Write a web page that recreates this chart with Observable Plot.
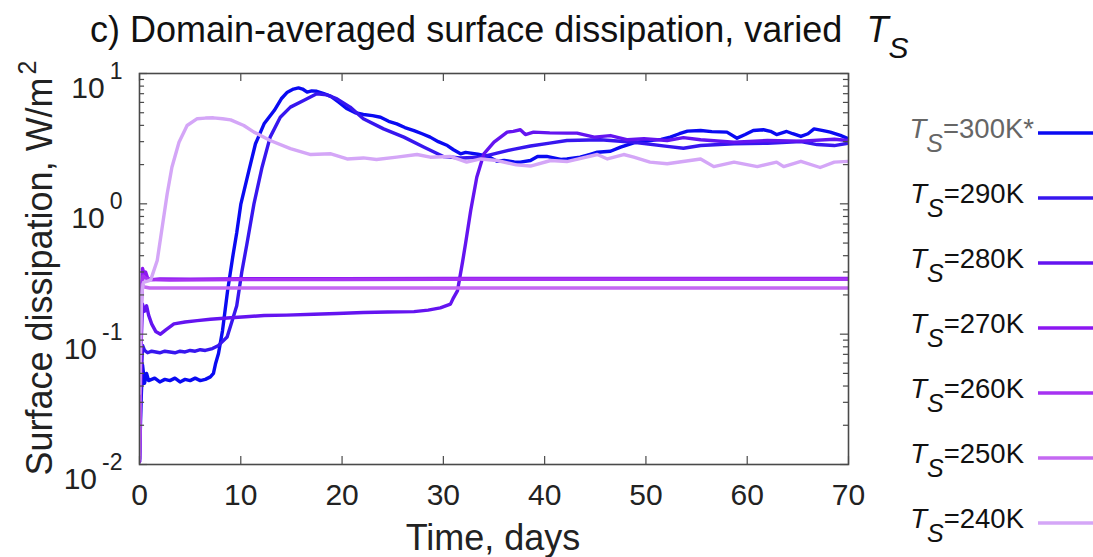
<!DOCTYPE html>
<html>
<head>
<meta charset="utf-8">
<script src="https://cdn.jsdelivr.net/npm/d3@7"></script>
<script src="https://cdn.jsdelivr.net/npm/@observablehq/plot@0.6"></script>
<style>
  body { margin: 0; background: #fff; }
  #wrap { position: relative; width: 1093px; height: 557px; font-family: "Liberation Sans", Arial, sans-serif; }
  #chart { position: absolute; left: 0; top: 0; }
  #overlay { position: absolute; left: 0; top: 0; pointer-events: none; }
</style>
</head>
<body>
<div id="wrap">
  <div id="chart"></div>
  <svg id="overlay" width="1093" height="557"></svg>
</div>
<script>
// ---------- data (day, W/m^2) ----------
const ts300 = [[0,0.0105],[0.15,0.03],[0.3,0.058],[0.5,0.042],[0.7,0.05],[0.9,0.044],[1.5,0.046],[2,0.043],[2.5,0.045],[3,0.044],[3.5,0.046],[4,0.043],[4.5,0.045],[5,0.044],[5.5,0.046],[6,0.044],[6.5,0.045],[7,0.047],[7.3,0.05],[7.5,0.059],[7.8,0.071],[8.2,0.107],[8.7,0.216],[9.2,0.39],[9.6,0.6],[10.0,0.99],[10.8,1.8],[11.45,2.89],[12.3,4.11],[13.3,5.2],[14.0,6.4],[14.6,7.19],[15.2,7.6],[15.7,7.76],[16.1,7.6],[16.55,7.2],[17.0,7.35],[17.5,7.3],[18.2,7.0],[18.9,6.67],[19.7,6.0],[20.5,5.36],[21.3,5.0],[22.1,4.85],[23.0,4.75],[23.8,4.62],[24.6,4.3],[25.4,4.11],[26.2,3.85],[27.1,3.65],[27.9,3.45],[28.7,3.25],[29.5,3.0],[30.4,2.8],[31.0,2.6],[31.7,2.42],[32.2,2.48],[32.7,2.45],[33.4,2.4],[34.0,2.35],[34.7,2.25],[35.3,2.12],[36,2.15],[37,2.1],[37.6,2.09],[38.6,2.15],[39.3,2.31],[40.2,2.31],[41.6,2.19],[42.2,2.21],[43.5,2.28],[44.5,2.4],[45.2,2.49],[46.5,2.53],[47.5,2.72],[48.8,2.94],[50.4,3.06],[51.5,3.12],[52.4,3.25],[53.3,3.45],[54.1,3.61],[55.4,3.65],[56.5,3.58],[58.0,3.55],[59.0,3.19],[59.8,3.4],[60.6,3.65],[61.6,3.7],[62.3,3.6],[62.9,3.4],[63.9,3.59],[64.5,3.45],[65.3,3.29],[66.0,3.45],[66.6,3.76],[67.5,3.65],[68.2,3.55],[69.2,3.35],[70.0,3.16]];
const ts290 = [[0,0.011],[0.15,0.04],[0.3,0.082],[0.5,0.075],[0.8,0.072],[1.2,0.074],[2,0.072],[2.5,0.074],[3,0.073],[3.5,0.072],[4,0.074],[4.5,0.073],[5,0.075],[5.5,0.074],[6,0.076],[6.5,0.075],[7.2,0.0775],[7.8,0.082],[8.65,0.095],[9.15,0.127],[9.6,0.165],[10.1,0.3],[10.6,0.49],[11.3,1.0],[12.1,1.91],[12.9,3.25],[13.9,4.62],[14.9,5.52],[16.2,6.21],[17.5,6.99],[18.5,6.86],[19.5,6.39],[20.8,5.52],[22.1,4.5],[24.1,3.76],[26.1,3.25],[28.1,2.72],[30.0,2.31],[31.7,2.25],[33.7,2.28],[35.3,2.45],[36.9,2.62],[38.6,2.78],[40.5,2.92],[42.2,3.06],[45.5,3.1],[48.8,2.97],[52.1,2.76],[53.7,2.67],[55.4,2.8],[58.7,2.89],[62.0,2.92],[65.3,3.01],[66.9,2.85],[68.6,2.8],[70,2.92]];
const ts280 = [[0,0.011],[0.15,0.08],[0.3,0.17],[0.5,0.15],[0.7,0.165],[0.9,0.14],[1.2,0.12],[1.6,0.105],[2.07,0.1],[2.6,0.108],[3.4,0.12],[4.5,0.124],[5.7,0.127],[7,0.13],[9.0,0.1335],[10.5,0.136],[12.3,0.139],[14.5,0.14],[17.2,0.142],[19.5,0.144],[22.1,0.1465],[24.5,0.148],[27.1,0.149],[28.5,0.153],[29.7,0.159],[30.7,0.17],[31.0,0.19],[31.4,0.216],[31.9,0.36],[32.2,0.5],[32.7,0.888],[33.3,1.6],[34.0,2.42],[35.0,2.97],[36.3,3.55],[36.9,3.6],[37.6,3.7],[38.1,3.4],[38.9,3.55],[40.5,3.5],[42.2,3.49],[43.2,3.49],[44.9,3.25],[46.5,3.34],[48.2,3.1],[49.8,3.16],[52.1,3.06],[53.7,3.22],[55.4,3.1],[58.7,2.97],[62.0,3.06],[65.3,3.03],[68.6,3.13],[70,3.06]];
const ts270 = [[0,0.0105],[0.1,0.05],[0.2,0.2],[0.3,0.32],[0.45,0.29],[0.6,0.3],[0.8,0.27],[1.2,0.262],[2,0.265],[5,0.264],[10,0.266],[20,0.267],[30,0.268],[40,0.268],[50,0.268],[60,0.268],[70,0.268]];
const ts260 = [[0,0.0105],[0.1,0.06],[0.2,0.22],[0.35,0.28],[0.6,0.27],[1,0.262],[3,0.26],[10,0.262],[20,0.263],[30,0.264],[50,0.264],[70,0.264]];
const ts250 = [[0,0.011],[0.1,0.1],[0.25,0.24],[0.5,0.23],[1,0.226],[10,0.226],[30,0.226],[50,0.226],[70,0.226]];
const ts240 = [[0,0.035],[0.2,0.2],[0.4,0.25],[0.8,0.255],[1.1,0.26],[1.75,0.367],[2.24,0.662],[2.73,1.19],[3.2,1.91],[3.9,2.97],[4.7,3.99],[5.7,4.5],[6.5,4.55],[7.3,4.57],[8.2,4.5],[9.0,4.41],[10.3,3.99],[11.3,3.55],[12.9,3.06],[14.9,2.65],[16.9,2.39],[18.9,2.42],[20.5,2.21],[22.1,2.25],[23.4,2.19],[25.4,2.28],[27.4,2.39],[28.7,2.28],[30.7,2.31],[32.3,2.09],[33.7,2.21],[35.3,2.15],[37.2,1.99],[38.6,1.95],[40.6,2.15],[42.2,2.11],[45.2,2.39],[46.2,2.21],[47.8,2.39],[48.8,2.28],[50.4,2.09],[52.1,2.03],[55.4,2.21],[56.7,1.93],[58.7,2.09],[61.0,1.93],[62.9,2.09],[63.6,1.93],[65.3,2.12],[67.2,1.9],[68.6,2.09],[70,2.12]];

const seriesNames = ["300K*", "290K", "280K", "270K", "260K", "250K", "240K"];
const seriesColors = ["#0a0af2", "#3716ef", "#6414f0", "#8c16f2", "#a632f2", "#c468f2", "#d4a6f7"];
const seriesData = [ts300, ts290, ts280, ts270, ts260, ts250, ts240];

const xTicks = [0, 10, 20, 30, 40, 50, 60, 70];
const yMajor = [0.01, 0.1, 1, 10];
const yExponents = ["-2", "-1", "0", "1"];
const yMinor = [2,3,4,5,6,7,8,9].flatMap(m => [0.01, 0.1, 1].map(p => m * p));

// ---------- build table ----------
const rows = seriesData.flatMap((arr, i) => arr.map(([t, v]) => ({series: seriesNames[i], t, v})));

const frameColor = "#4a4a4a";
const tickLenX = 0.8, tickLenMinor = 0.5, tickFactor = 1.15;
const FONT = "'Liberation Sans', Arial, sans-serif";

const plot = Plot.plot({
  width: 880,
  height: 557,
  marginLeft: 139,
  marginRight: 32,
  marginTop: 73,
  marginBottom: 93,
  style: {fontFamily: FONT, fontSize: "30px", color: "#222", background: "white"},
  x: {domain: [0, 70]},
  y: {type: "log", domain: [0.01, 10]},
  color: {domain: seriesNames, range: seriesColors},
  marks: [
    Plot.line(rows, {x: "t", y: "v", z: "series", stroke: "series", strokeWidth: 3.4, clip: true, strokeLinejoin: "round"}),
    Plot.ruleX(xTicks, {x: d => d, y1: 0.01, y2: 0.01 * tickFactor, stroke: frameColor, strokeWidth: 1.2}),
    Plot.ruleX(xTicks, {x: d => d, y1: 10 / tickFactor, y2: 10, stroke: frameColor, strokeWidth: 1.2}),
    Plot.ruleY(yMajor, {y: d => d, x1: 0, x2: tickLenX, stroke: frameColor, strokeWidth: 1.2}),
    Plot.ruleY(yMajor, {y: d => d, x1: 70 - tickLenX, x2: 70, stroke: frameColor, strokeWidth: 1.2}),
    Plot.ruleY(yMinor, {y: d => d, x1: 0, x2: tickLenMinor, stroke: frameColor, strokeWidth: 1.2}),
    Plot.ruleY(yMinor, {y: d => d, x1: 70 - tickLenMinor, x2: 70, stroke: frameColor, strokeWidth: 1.2}),
    Plot.frame({stroke: frameColor, strokeWidth: 1.6}),
    Plot.axisX({ticks: xTicks, tickSize: 0, tickPadding: 19, label: null, fontSize: 30, tickFormat: d => String(d)}),
    Plot.axisY({ticks: yMajor, tickSize: 0, tickPadding: 17, label: null, fontSize: 30, tickFormat: () => "10"})
  ]
});
document.getElementById("chart").appendChild(plot);

// superscript exponents on y tick labels
d3.select(plot).selectAll('g[aria-label="y-axis tick label"] text').each(function(d, i) {
  const t = d3.select(this);
  t.attr("dy", "15");
  t.append("tspan").attr("dx", "5").attr("dy", "-19").attr("font-size", "23px").text(yExponents[i]);
});

// ---------- overlay: title, axis labels, legend ----------
const ov = d3.select("#overlay");
const title = ov.append("text").attr("x", 90).attr("y", 42).attr("font-size", 36).attr("fill", "#111")
  .attr("font-family", FONT);
title.append("tspan").text("c) Domain-averaged surface dissipation, varied ");
title.append("tspan").attr("font-style", "italic").attr("dx", 14).text("T");
title.append("tspan").attr("font-style", "italic").attr("font-size", 30).attr("dy", 16).text("S");

ov.append("text").attr("x", 493).attr("y", 550).attr("text-anchor", "middle").attr("font-size", 36).attr("fill", "#222")
  .attr("font-family", FONT).text("Time, days");

const yl = ov.append("text").attr("transform", "translate(52,268) rotate(-90)").attr("text-anchor", "middle")
  .attr("font-size", 36).attr("fill", "#222").attr("font-family", FONT);
yl.append("tspan").text("Surface dissipation, W/m");
yl.append("tspan").attr("font-size", 25).attr("dy", -16).attr("dx", 3).text("2");

const legendY0 = 133, legendStep = 65;
seriesNames.forEach((name, i) => {
  const y = legendY0 + i * legendStep;
  const g = ov.append("g").attr("font-family", FONT);
  const txt = g.append("text").attr("x", i === 0 ? 1034 : 1024).attr("y", y + 5).attr("text-anchor", "end")
    .attr("font-size", 27.5).attr("fill", i === 0 ? "#666" : "#111");
  txt.append("tspan").attr("font-style", "italic").text("T");
  txt.append("tspan").attr("font-style", "italic").attr("font-size", 25).attr("dy", 14).text("S");
  txt.append("tspan").attr("dy", -14).text("=" + name);
  g.append("line").attr("x1", 1038).attr("x2", 1093).attr("y1", y).attr("y2", y)
    .attr("stroke", seriesColors[i]).attr("stroke-width", 3.4);
});
</script>
</body>
</html>
